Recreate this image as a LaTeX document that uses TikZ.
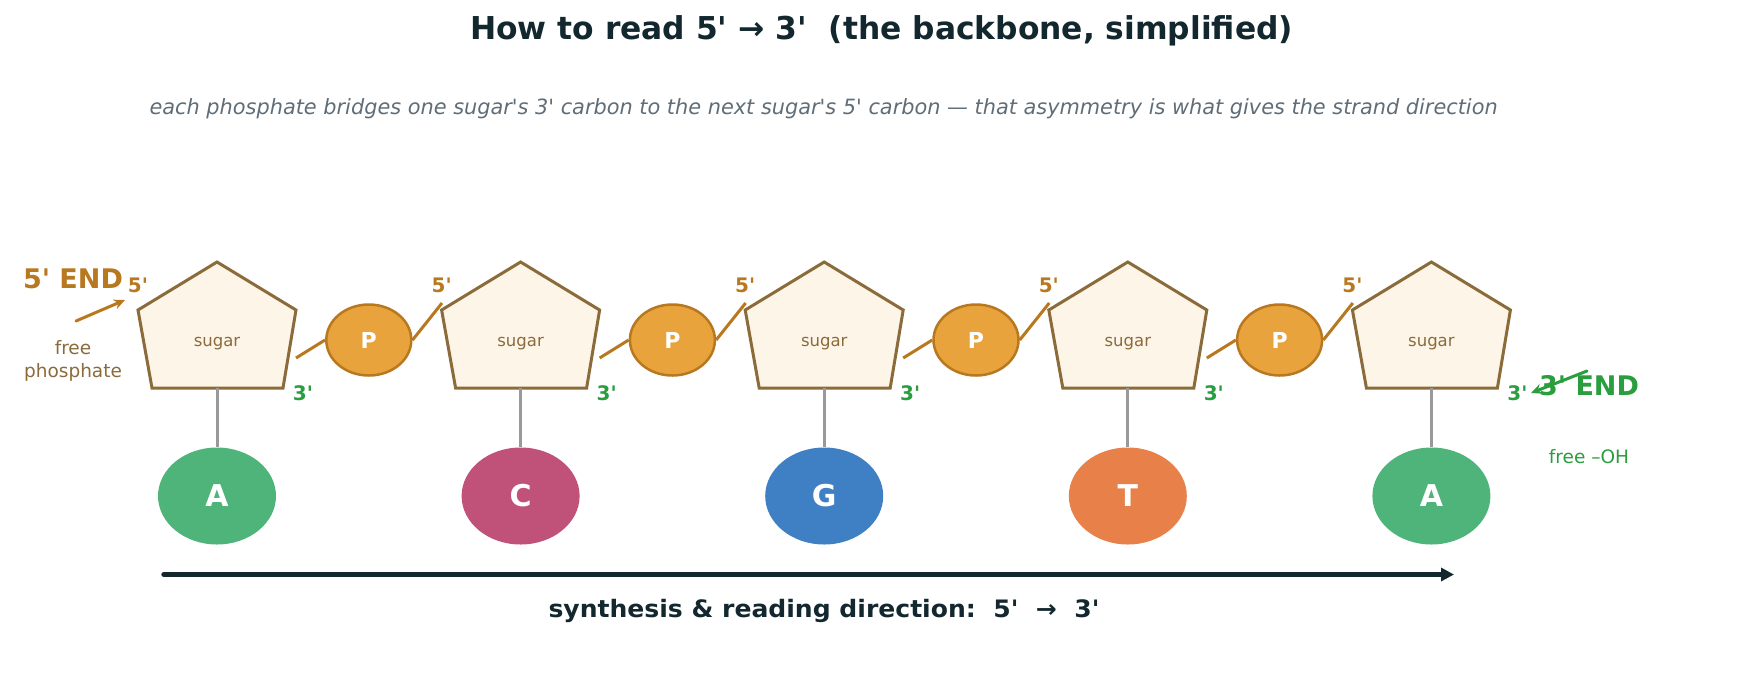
\documentclass[tikz,border=0pt]{standalone}
\usepackage{fontspec}
\setmainfont{DejaVu Sans}
\usetikzlibrary{shapes.geometric,arrows.meta}
\newcommand{\sq}{\textquotesingle}
\definecolor{titlec}{HTML}{13272F}
\definecolor{subc}{HTML}{5F6D78}
\definecolor{sugfill}{HTML}{FDF5E8}
\definecolor{sugdraw}{HTML}{8B6B3A}
\definecolor{pfill}{HTML}{E8A33D}
\definecolor{pdraw}{HTML}{B8781F}
\definecolor{threec}{HTML}{2A9D3F}
\definecolor{baseA}{HTML}{4FB47A}
\definecolor{baseC}{HTML}{C0527A}
\definecolor{baseG}{HTML}{3F7FC4}
\definecolor{baseT}{HTML}{E8804A}
\definecolor{stemc}{HTML}{999999}
\tikzset{
  sugarbox/.style={draw=sugdraw, fill=sugfill, line width=3pt, line join=miter},
  sugartxt/.style={text=sugdraw, font=\fontsize{16.5}{18}\selectfont, inner sep=0pt, anchor=base},
  basenode/.style={ellipse, minimum width=118pt, minimum height=97pt, inner sep=0pt, text=white, font=\fontsize{30}{32}\selectfont\bfseries},
  pnode/.style={ellipse, draw=pdraw, fill=pfill, line width=2.5pt, minimum width=85pt, minimum height=71pt, inner sep=0pt, text=white, font=\fontsize{22}{24}\selectfont\bfseries},
  stem/.style={draw=stemc, line width=3pt},
  bblink/.style={draw=pdraw, line width=3pt},
  fivelbl/.style={text=pdraw, font=\fontsize{20}{22}\selectfont\bfseries, inner sep=0pt},
  threelbl/.style={text=threec, font=\fontsize{20}{22}\selectfont\bfseries, inner sep=0pt},
}
\begin{document}
\begin{tikzpicture}[x=1pt,y=-1pt]
\useasboundingbox (0,0) rectangle (1763,673);
% title
\node[text=titlec, inner sep=0pt] (title) at (881.5,31) {\resizebox{823pt}{\height}{\fontsize{31.5}{34}\selectfont\bfseries How to read 5\sq{} → 3\sq\ \ (the backbone, simplified)}};
\node[text=subc, inner sep=0pt] (sub) at (823.6,109) {\resizebox{1348pt}{\height}{\fontsize{21}{24}\selectfont\itshape each phosphate bridges one sugar\sq s 3\sq{} carbon to the next sugar\sq s 5\sq{} carbon — that asymmetry is what gives the strand direction}};
% sugars and bases
\foreach \i/\x/\b/\col in {1/217/A/baseA, 2/520.6/C/baseC, 3/824.2/G/baseG, 4/1127.8/T/baseT, 5/1431.4/A/baseA} {
  \draw[sugarbox] (\x,262) -- (\x+79,310) -- (\x+66,388) -- (\x-65,388) -- (\x-79,310) -- cycle;
  \node[sugartxt] (s\i) at (\x,346.5) {sugar};
  \node[basenode, fill=\col] (b\i) at (\x,496) {\b};
  \coordinate (s\i bot) at (\x,388);
  \draw[stem] (s\i bot) -- (b\i.north);
  \node[fivelbl] (f\i) at (\x-79,285) {5\sq};
  \node[threelbl] (t\i) at (\x+86,393) {3\sq};
  \coordinate (s\i three) at (\x+79,358);
  \coordinate (s\i five) at (\x-78.6,303);
}
% phosphates
\foreach \i/\j/\x in {1/2/368.8, 2/3/672.4, 3/4/976, 4/5/1279.6} {
  \node[pnode] (p\i) at (\x,340) {P};
  \draw[bblink] (s\i three) -- (p\i.west);
  \draw[bblink] (p\i.east) -- (s\j five);
}
% 5' end
\node[text=pdraw, font=\fontsize{27}{30}\selectfont\bfseries, inner sep=0pt] (fiveend) at (73,279) {5\sq{} END};
\coordinate (fa1) at (76,321);
\coordinate (fa2) at (125,300);
\draw[draw=pdraw, line width=3pt, line cap=round, -{Stealth[length=11pt,width=10pt]}] (fa1) -- (fa2);
\node[text=sugdraw, font=\fontsize{18.5}{23}\selectfont, align=center, inner sep=0pt] (freep) at (73,361) {free\\phosphate};
% 3' end
\node[text=threec, font=\fontsize{27}{30}\selectfont\bfseries, inner sep=0pt] (threeend) at (1589,386) {3\sq{} END};
\coordinate (ta1) at (1587,371);
\coordinate (ta2) at (1531,393);
\draw[draw=threec, line width=3pt, line cap=round, -{Stealth[length=11pt,width=10pt]}] (ta1) -- (ta2);
\node[text=threec, font=\fontsize{18.5}{22}\selectfont, inner sep=0pt] (freeoh) at (1589,457) {free –OH};
% direction arrow
\coordinate (d1) at (164,574.5);
\coordinate (d2) at (1454,574.5);
\draw[draw=titlec, line width=5.5pt, line cap=round, -{Triangle[length=13pt,width=13pt]}] (d1) -- (d2);
\node[text=titlec, inner sep=0pt] (cap) at (824,611) {\resizebox{551pt}{\height}{\fontsize{24}{28}\selectfont\bfseries synthesis \& reading direction:\ \ 5\sq\ \ →\ \ 3\sq}};
\end{tikzpicture}
\end{document}
